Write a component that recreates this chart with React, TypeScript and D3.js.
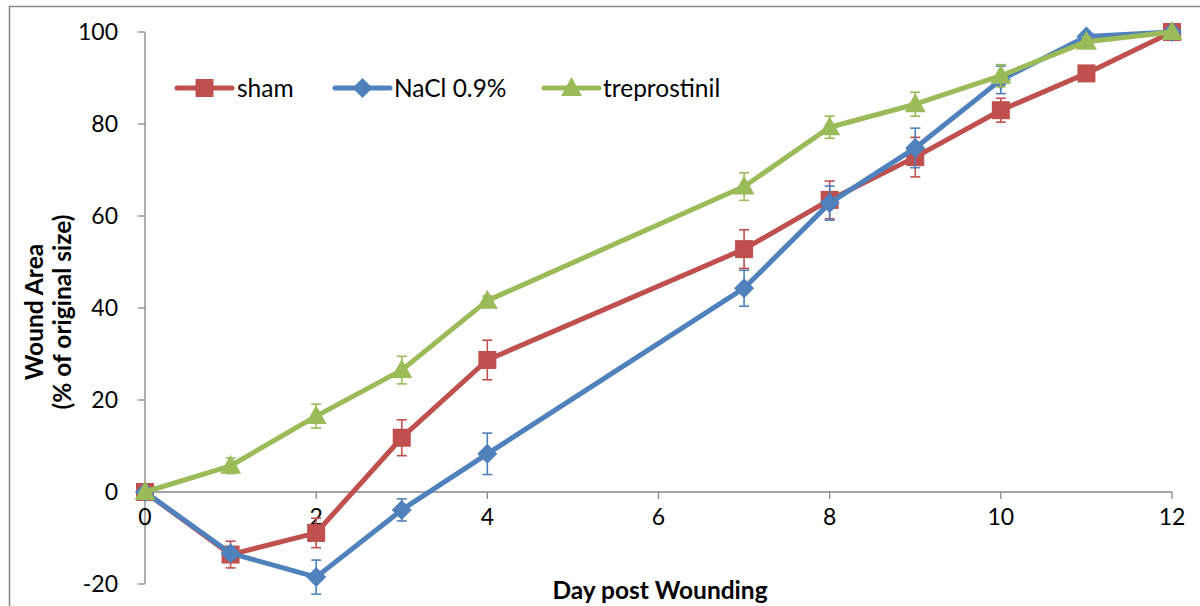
import React from "react";
import * as d3 from "d3";

const days = [0, 1, 2, 3, 4, 7, 8, 9, 10, 11, 12];
const sham = [0, -13.6, -8.9, 11.8, 28.7, 52.8, 63.5, 72.8, 83, 91, 100];
const shamErr = [0, 2.9, 3.2, 3.9, 4.3, 4.2, 4.1, 4.3, 2.6, 0.8, 0];
const nacl = [0, -13.3, -18.5, -3.9, 8.3, 44.3, 62.8, 74.8, 89.6, 99, 100];
const naclErr = [0, 1.2, 3.7, 2.4, 4.5, 3.9, 3.7, 4.3, 3.0, 0.6, 0];
const trep = [0, 5.7, 16.5, 26.5, 41.6, 66.4, 79.3, 84.3, 90.5, 97.9, 100];
const trepErr = [0, 1.7, 2.6, 3.0, 1.0, 3.0, 2.4, 2.6, 2.4, 1.0, 0];
const xTicks = [0, 2, 4, 6, 8, 10, 12];
const yTicks = [-20, 0, 20, 40, 60, 80, 100];

const seriesNames = ["sham", "NaCl 0.9%", "treprostinil"];
const colors = ["#C0504D", "#4F81BD", "#9BBB59"];

const FONT = "Lato, 'Open Sans', sans-serif";

function Marker({ kind, x, y, color }: { kind: number; x: number; y: number; color: string }) {
  if (kind === 0) return <rect x={x - 9} y={y - 9} width={18} height={18} fill={color} />;
  if (kind === 1)
    return <path d={`M${x},${y - 10}L${x + 10},${y}L${x},${y + 10}L${x - 10},${y}Z`} fill={color} />;
  return <path d={`M${x},${y - 11}L${x + 10.5},${y + 8}L${x - 10.5},${y + 8}Z`} fill={color} />;
}

export default function App() {
  const W = 1200, H = 606;
  const x = d3.scaleLinear().domain([0, 12]).range([145, 1172]);
  const y = d3.scaleLinear().domain([-20, 100]).range([584, 32]);
  const series = [
    { vals: sham, err: shamErr },
    { vals: nacl, err: naclErr },
    { vals: trep, err: trepErr },
  ];
  const line = d3.line<number>().x((_, i) => x(days[i])).y((v) => y(v));
  const axisColor = "#868686";
  const legendItems = [
    { x1: 177, x2: 232, tx: 237 },
    { x1: 335, x2: 390, tx: 394 },
    { x1: 544, x2: 599, tx: 603 },
  ];
  const ly = 88;
  return (
    <svg width={W} height={H} style={{ position: "absolute", left: 0, top: 0, background: "#fff" }}
      fontFamily={FONT}>
      <rect x={0} y={0} width={W} height={H} fill="#fff" />
      <path d={`M9.5,${H}V6.5H${W}`} fill="none" stroke={axisColor} strokeWidth={1.5} />
      {/* y axis */}
      <line x1={x(0)} x2={x(0)} y1={y(100)} y2={y(-20)} stroke={axisColor} strokeWidth={1.3} />
      {yTicks.map((t) => (
        <g key={t}>
          <line x1={x(0) - 7} x2={x(0)} y1={y(t)} y2={y(t)} stroke={axisColor} strokeWidth={1.3} />
          <text x={118} y={y(t)} dy="0.36em" textAnchor="end" fontSize={23} fill="#000">{t}</text>
        </g>
      ))}
      {/* x axis at 0 */}
      <line x1={x(0)} x2={x(12)} y1={y(0)} y2={y(0)} stroke={axisColor} strokeWidth={1.3} />
      {xTicks.map((t) => (
        <g key={t}>
          <line x1={x(t)} x2={x(t)} y1={y(0)} y2={y(0) + 7} stroke={axisColor} strokeWidth={1.3} />
          <text x={x(t)} y={y(0) + 33} textAnchor="middle" fontSize={23} fill="#000">{t}</text>
        </g>
      ))}
      <text x={660} y={599} textAnchor="middle" fontSize={24.5} fontWeight="bold" fill="#000">Day post Wounding</text>
      <g transform="translate(34,312) rotate(-90)">
        <text x={0} y={0} dy="0.35em" textAnchor="middle" fontSize={24.5} fontWeight="bold">Wound Area</text>
        <text x={0} y={28} dy="0.35em" textAnchor="middle" fontSize={24.5} fontWeight="bold">(% of original size)</text>
      </g>
      {/* series */}
      {series.map((s, si) => (
        <g key={si}>
          <path d={line(s.vals) || ""} fill="none" stroke={colors[si]} strokeWidth={5} strokeLinejoin="round" strokeLinecap="round" />
          {s.vals.map((v, i) => {
            const e = s.err[i];
            if (!e) return null;
            const cx = x(days[i]);
            return (
              <g key={i} stroke={colors[si]} strokeWidth={1.6}>
                <line x1={cx} x2={cx} y1={y(v + e)} y2={y(v - e)} />
                <line x1={cx - 5} x2={cx + 5} y1={y(v + e)} y2={y(v + e)} />
                <line x1={cx - 5} x2={cx + 5} y1={y(v - e)} y2={y(v - e)} />
              </g>
            );
          })}
          {s.vals.map((v, i) => (
            <Marker key={"m" + i} kind={si} x={x(days[i])} y={y(v)} color={colors[si]} />
          ))}
        </g>
      ))}
      {/* legend */}
      {legendItems.map((l, i) => (
        <g key={i}>
          <line x1={l.x1} x2={l.x2} y1={ly} y2={ly} stroke={colors[i]} strokeWidth={5} strokeLinecap="round" />
          <Marker kind={i} x={(l.x1 + l.x2) / 2} y={ly} color={colors[i]} />
          <text x={l.tx} y={ly} dy="0.36em" fontSize={24.5} fill="#000">{seriesNames[i]}</text>
        </g>
      ))}
    </svg>
  );
}
